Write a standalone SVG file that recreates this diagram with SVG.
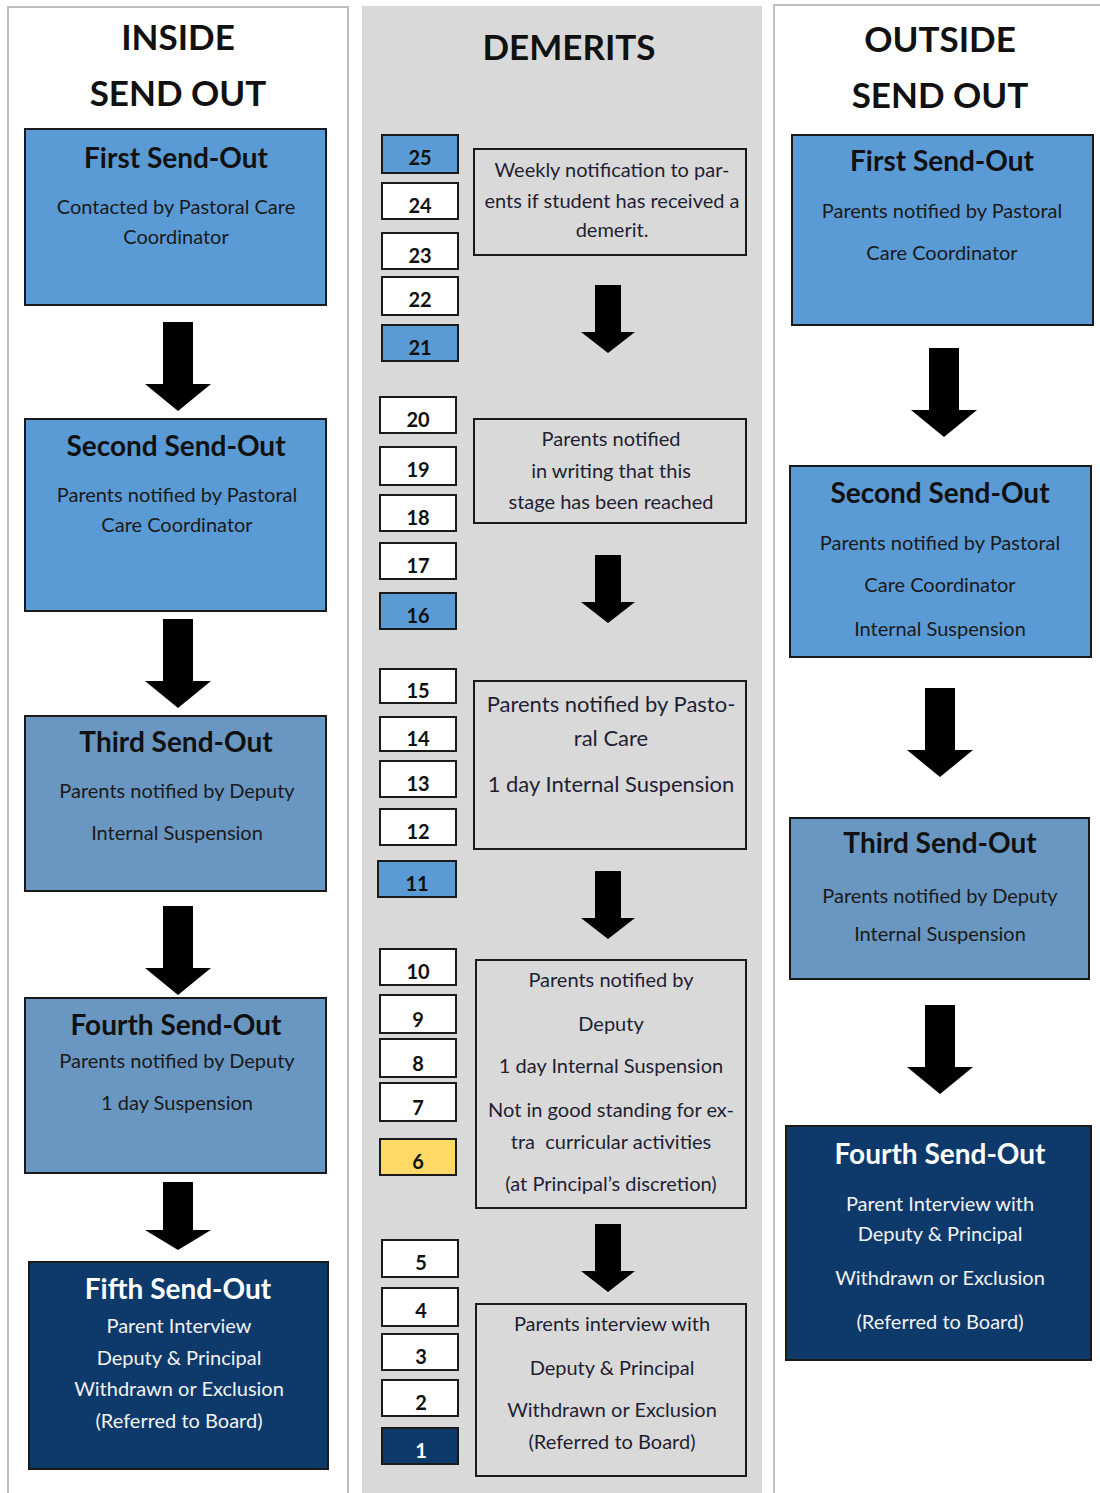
<svg xmlns="http://www.w3.org/2000/svg" width="1100" height="1493" viewBox="0 0 1100 1493">
<style>
text{font-family:Lato,"Liberation Sans",sans-serif;text-anchor:middle}
.hd{font-size:35px;font-weight:bold;fill:#111}
.tt{font-size:28px;font-weight:bold;fill:#111}
.tw{font-size:28px;font-weight:bold;fill:#fff}
.bd{font-size:20px;fill:#1a1a1a}
.bw{font-size:20px;fill:#f2f2f2}
.mt{font-size:20px;fill:#1f1f33}
.mt2{font-size:22px;fill:#1f1f33}
.num{font-size:20px;font-weight:bold;fill:#111}
.b1{fill:#5B9BD5;stroke:#1a1a1a;stroke-width:2}
.b2{fill:#6A97C2;stroke:#1a1a1a;stroke-width:2}
.b3{fill:#0D3A6B;stroke:#1a1a1a;stroke-width:2}
.nw{fill:#fff;stroke:#1a1a1a;stroke-width:2}
.tb{fill:none;stroke:#1a1a1a;stroke-width:2}
.ar{fill:#000}
</style>
<defs>
<path id="bigArrow" d="M-15,0 H15 V62 H33 L0,89 L-33,62 H-15 Z"/>
<path id="shortArrow" d="M-15,0 H15 V48 H33 L0,68 L-33,48 H-15 Z"/>
<path id="midArrow" d="M-13,0 H13 V47 H27 L0,68 L-27,47 H-13 Z"/>
</defs>
<g id="panels">
<rect x="8" y="7" width="340" height="1490" fill="#fff" stroke="#bfbfbf" stroke-width="2"/>
<rect x="362" y="6" width="400" height="1490" fill="#D9D9D9"/>
<rect x="774" y="5" width="330" height="1492" fill="#fff" stroke="#bfbfbf" stroke-width="2"/>
</g>
<g id="headers">
<text class="hd" x="178" y="50">INSIDE</text>
<text class="hd" x="178" y="106">SEND OUT</text>
<text class="hd" x="569" y="60">DEMERITS</text>
<text class="hd" x="940" y="52">OUTSIDE</text>
<text class="hd" x="940" y="108">SEND OUT</text>
</g>
<g id="connectors">
<use href="#bigArrow" x="178" y="322" class="ar"/>
<use href="#bigArrow" x="178" y="619" class="ar"/>
<use href="#bigArrow" x="178" y="906" class="ar"/>
<use href="#shortArrow" x="178" y="1182" class="ar"/>
<use href="#midArrow" x="608" y="285" class="ar"/>
<use href="#midArrow" x="608" y="555" class="ar"/>
<use href="#midArrow" x="608" y="871" class="ar"/>
<use href="#midArrow" x="608" y="1224" class="ar"/>
<use href="#bigArrow" x="944" y="348" class="ar"/>
<use href="#bigArrow" x="940" y="688" class="ar"/>
<use href="#bigArrow" x="940" y="1005" class="ar"/>
</g>
<g id="in1"><rect class="b1" x="25" y="129" width="301" height="176"/>
<text class="tt" x="176" y="168">First Send-Out</text>
<text class="bd" x="176" y="214">Contacted by Pastoral Care</text>
<text class="bd" x="176" y="244">Coordinator</text></g>
<g id="in2"><rect class="b1" x="25" y="419" width="301" height="192"/>
<text class="tt" x="176" y="456">Second Send-Out</text>
<text class="bd" x="177" y="502">Parents notified by Pastoral</text>
<text class="bd" x="177" y="532">Care Coordinator</text></g>
<g id="in3"><rect class="b2" x="25" y="716" width="301" height="175"/>
<text class="tt" x="176" y="752">Third Send-Out</text>
<text class="bd" x="177" y="798">Parents notified by Deputy</text>
<text class="bd" x="177" y="840">Internal Suspension</text></g>
<g id="in4"><rect class="b2" x="25" y="998" width="301" height="175"/>
<text class="tt" x="176" y="1035">Fourth Send-Out</text>
<text class="bd" x="177" y="1068">Parents notified by Deputy</text>
<text class="bd" x="177" y="1110">1 day Suspension</text></g>
<g id="in5"><rect class="b3" x="29" y="1262" width="299" height="207"/>
<text class="tw" x="178" y="1299">Fifth Send-Out</text>
<text class="bw" x="179" y="1333">Parent Interview</text>
<text class="bw" x="179" y="1365">Deputy &amp; Principal</text>
<text class="bw" x="179" y="1396">Withdrawn or Exclusion</text>
<text class="bw" x="179" y="1428">(Referred to Board)</text></g>
<g id="nums">
<rect class="b1" x="382" y="135" width="76" height="38"/><text class="num" x="420" y="165">25</text>
<rect class="nw" x="382" y="183" width="76" height="36"/><text class="num" x="420" y="213">24</text>
<rect class="nw" x="382" y="233" width="76" height="36"/><text class="num" x="420" y="263">23</text>
<rect class="nw" x="382" y="277" width="76" height="38"/><text class="num" x="420" y="307">22</text>
<rect class="b1" x="382" y="325" width="76" height="36"/><text class="num" x="420" y="355">21</text>
<rect class="nw" x="380" y="397" width="76" height="36"/><text class="num" x="418" y="427">20</text>
<rect class="nw" x="380" y="447" width="76" height="38"/><text class="num" x="418" y="477">19</text>
<rect class="nw" x="380" y="495" width="76" height="36"/><text class="num" x="418" y="525">18</text>
<rect class="nw" x="380" y="543" width="76" height="36"/><text class="num" x="418" y="573">17</text>
<rect class="b1" x="380" y="593" width="76" height="36"/><text class="num" x="418" y="623">16</text>
<rect class="nw" x="380" y="669" width="76" height="34"/><text class="num" x="418" y="698">15</text>
<rect class="nw" x="380" y="717" width="76" height="34"/><text class="num" x="418" y="746">14</text>
<rect class="nw" x="380" y="761" width="76" height="36"/><text class="num" x="418" y="791">13</text>
<rect class="nw" x="380" y="809" width="76" height="36"/><text class="num" x="418" y="839">12</text>
<rect class="b1" x="378" y="861" width="78" height="36"/><text class="num" x="417" y="891">11</text>
<rect class="nw" x="380" y="949" width="76" height="36"/><text class="num" x="418" y="979">10</text>
<rect class="nw" x="380" y="995" width="76" height="38"/><text class="num" x="418" y="1027">9</text>
<rect class="nw" x="380" y="1039" width="76" height="38"/><text class="num" x="418" y="1071">8</text>
<rect class="nw" x="380" y="1083" width="76" height="38"/><text class="num" x="418" y="1115">7</text>
<rect x="380" y="1139" width="76" height="36" fill="#FFD966" stroke="#1a1a1a" stroke-width="2"/><text class="num" x="418" y="1169">6</text>
<rect class="nw" x="382" y="1240" width="76" height="37"/><text class="num" x="421" y="1270">5</text>
<rect class="nw" x="382" y="1288" width="76" height="38"/><text class="num" x="421" y="1318">4</text>
<rect class="nw" x="382" y="1334" width="76" height="36"/><text class="num" x="421" y="1364">3</text>
<rect class="nw" x="382" y="1380" width="76" height="36"/><text class="num" x="421" y="1410">2</text>
<rect class="b3" x="382" y="1428" width="76" height="36"/><text class="num" x="421" y="1458" style="fill:#fff">1</text>
</g>
<g id="midA"><rect class="tb" x="474" y="149" width="272" height="106"/>
<text class="mt" x="612" y="177">Weekly notification to par-</text>
<text class="mt" x="612" y="208">ents if student has received a</text>
<text class="mt" x="612" y="237">demerit.</text></g>
<g id="midB"><rect class="tb" x="474" y="419" width="272" height="104"/>
<text class="mt" x="611" y="446">Parents notified</text>
<text class="mt" x="611" y="478">in writing that this</text>
<text class="mt" x="611" y="509">stage has been reached</text></g>
<g id="midC"><rect class="tb" x="474" y="681" width="272" height="168"/>
<text class="mt2" x="611" y="712">Parents notified by Pasto-</text>
<text class="mt2" x="611" y="746">ral Care</text>
<text class="mt2" x="611" y="792">1 day Internal Suspension</text></g>
<g id="midD"><rect class="tb" x="476" y="960" width="270" height="248"/>
<text class="mt" x="611" y="987">Parents notified by</text>
<text class="mt" x="611" y="1031">Deputy</text>
<text class="mt" x="611" y="1073">1 day Internal Suspension</text>
<text class="mt" x="611" y="1117">Not in good standing for ex-</text>
<text class="mt" x="611" y="1149" style="white-space:pre">tra  curricular activities</text>
<text class="mt" x="611" y="1191">(at Principal’s discretion)</text></g>
<g id="midE"><rect class="tb" x="476" y="1304" width="270" height="172"/>
<text class="mt" x="612" y="1331">Parents interview with</text>
<text class="mt" x="612" y="1375">Deputy &amp; Principal</text>
<text class="mt" x="612" y="1417">Withdrawn or Exclusion</text>
<text class="mt" x="612" y="1449">(Referred to Board)</text></g>
<g id="out1"><rect class="b1" x="792" y="135" width="301" height="190"/>
<text class="tt" x="942" y="171">First Send-Out</text>
<text class="bd" x="942" y="218">Parents notified by Pastoral</text>
<text class="bd" x="942" y="260">Care Coordinator</text></g>
<g id="out2"><rect class="b1" x="790" y="466" width="301" height="191"/>
<text class="tt" x="940" y="503">Second Send-Out</text>
<text class="bd" x="940" y="550">Parents notified by Pastoral</text>
<text class="bd" x="940" y="592">Care Coordinator</text>
<text class="bd" x="940" y="636">Internal Suspension</text></g>
<g id="out3"><rect class="b2" x="790" y="818" width="299" height="161"/>
<text class="tt" x="940" y="853">Third Send-Out</text>
<text class="bd" x="940" y="903">Parents notified by Deputy</text>
<text class="bd" x="940" y="941">Internal Suspension</text></g>
<g id="out4"><rect class="b3" x="786" y="1126" width="305" height="234"/>
<text class="tw" x="940" y="1164">Fourth Send-Out</text>
<text class="bw" x="940" y="1211">Parent Interview with</text>
<text class="bw" x="940" y="1241">Deputy &amp; Principal</text>
<text class="bw" x="940" y="1285">Withdrawn or Exclusion</text>
<text class="bw" x="940" y="1329">(Referred to Board)</text></g>
</svg>
